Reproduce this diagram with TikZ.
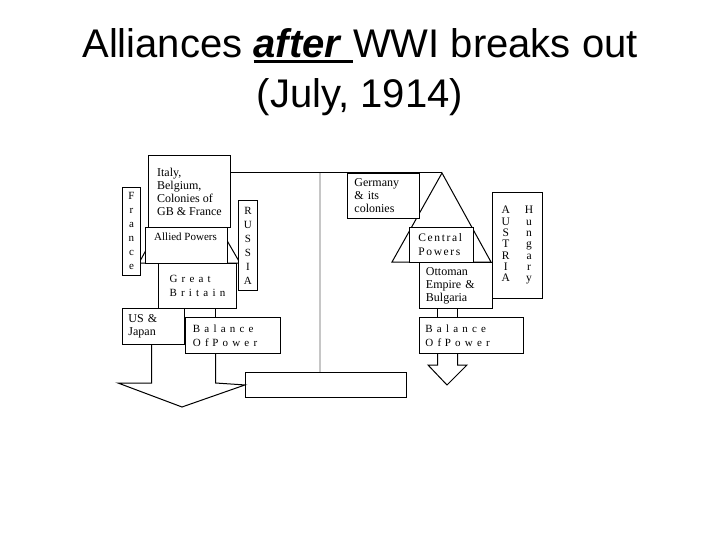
\documentclass[tikz,border=0pt]{standalone}
\usepackage{fontspec}
\setmainfont{Liberation Serif}
\newfontfamily\titlefont{Liberation Sans}
\newfontfamily\widefont[LetterSpace=38]{Liberation Serif}
\newfontfamily\semiwidefont[LetterSpace=14]{Liberation Serif}
\usetikzlibrary{positioning}
\newcommand{\ulword}[1]{\setbox0\hbox{#1}\rlap{\rule[-5pt]{\wd0}{2.6pt}}\box0}

\begin{document}
\begin{tikzpicture}[
  x=1pt, y=-1pt,
  box/.style={rectangle, draw, line width=0.9pt, fill=white, inner sep=0pt, align=left,
              font=\fontsize{12}{13}\selectfont},
  strip/.style={box, align=center, font=\fontsize{11}{14}\selectfont},
  wide/.style={box, font=\widefont\fontsize{11}{14}\selectfont},
  lbl/.style={inner sep=0pt, font=\fontsize{11}{13}\selectfont},
  heading/.style={font=\titlefont\fontsize{40}{48}\selectfont, anchor=base, inner sep=0pt},
  link/.style={draw, line width=1pt},
  pole/.style={draw=gray!45, line width=2pt},
]
  \path[use as bounding box, fill=white] (0,0) rectangle (720,540);

  % Title
  \node[heading] (title) at (360,58) {Alliances \ulword{\textbf{\textit{after}}\ }WWI breaks out};
  \node[heading] (date)  at (360,108) {(July, 1914)};

  % Scale points
  \coordinate (pivot)  at (320,173);
  \coordinate (lapex)  at (188,173);
  \coordinate (rapex)  at (442,173);
  \coordinate (lbaseL) at (139,263);
  \coordinate (lbaseR) at (240,263);
  \coordinate (rbaseL) at (392,262);
  \coordinate (rbaseR) at (491,262);

  % Pans
  \draw[link] (lapex) -- (lbaseL) -- (lbaseR) -- cycle;
  \draw[link] (rapex) -- (rbaseL) -- (rbaseR) -- cycle;

  % Allied side
  \node[box, minimum width=82pt, minimum height=72pt, anchor=north west] (italy) at (148,155)
    {Italy,\\Belgium,\\Colonies of\\GB \& France};
  \node[box, minimum width=82pt, minimum height=36pt, anchor=north west] (allied) at (145,227) {};
  \node[lbl, below right=6pt and 9pt of allied.north west] (alliedtxt) {Allied Powers};
  \node[strip, minimum width=18pt, minimum height=88pt, anchor=north west] (france) at (122,187)
    {F\\r\\a\\n\\c\\e};
  \node[strip, minimum width=19pt, minimum height=90pt, anchor=north west] (russia) at (238,200)
    {R\\U\\S\\S\\I\\A};
  \node[wide, minimum width=78pt, minimum height=45pt, anchor=north west] (gb) at (158,263)
    {Great\\Britain};
  \node[box, text width=50pt, minimum width=62pt, minimum height=36pt, anchor=north west] (usjp) at (122,308)
    {US \&\\Japan};
  \node[wide, text width=80pt, minimum width=95pt, minimum height=36pt, anchor=north west] (balL) at (185,317)
    {Balance\\Of Power};

  % Central side
  \node[box, text width=58pt, minimum width=72pt, minimum height=45pt, anchor=north west] (germany) at (347,173)
    {Germany\\\& its\\colonies};
  \node[box, font=\semiwidefont\fontsize{11.5}{14}\selectfont, text width=46pt, minimum width=64pt,
        minimum height=35pt, anchor=north west] (central) at (409,227) {Central\\Powers};
  \node[box, text width=60pt, minimum width=73pt, minimum height=46pt, anchor=north west] (otto) at (419,262)
    {Ottoman\\Empire \&\\Bulgaria};
  \node[box, font=\fontsize{11.5}{11.3}\selectfont, minimum width=50pt, minimum height=106pt,
        anchor=north west] (austria) at (492,192)
    {\begin{tabular}{@{}c@{\hspace{15pt}}c@{}}
       A & H\\ U & u\\ S & n\\ T & g\\ R & a\\ I & r\\ A & y
     \end{tabular}};
  \node[wide, text width=92pt, minimum width=104pt, minimum height=36pt, anchor=north west] (balR) at (419,317)
    {Balance\\Of Power};

  % Base
  \node[box, minimum width=161pt, minimum height=25pt, anchor=north west] (base) at (245,372) {};

  % Beam and pole
  \draw[link] (italy.east |- pivot) -- (rapex);
  \draw[pole] (pivot) -- (pivot |- base.north);

  % Left arrow
  \coordinate (lsl)  at (151.5,383);
  \coordinate (lhl)  at (118,383);
  \coordinate (ltip) at (182,407);
  \coordinate (lsr)  at (215.5,383);
  \draw[link] (gb.south -| lsr) -- (balL.north -| lsr);
  \draw[link] (usjp.south -| lsl) -- (lsl) -- (lhl) -- (ltip) -- (base.west) -- (lsr) -- (balL.south -| lsr);

  % Right arrow
  \coordinate (rsl)  at (437.5,365);
  \coordinate (rhl)  at (428,365);
  \coordinate (rtip) at (447,385);
  \coordinate (rhr)  at (467,365);
  \coordinate (rsr)  at (457.5,365);
  \draw[link] (otto.south -| rsl) -- (balR.north -| rsl);
  \draw[link] (otto.south -| rsr) -- (balR.north -| rsr);
  \draw[link] (balR.south -| rsl) -- (rsl) -- (rhl) -- (rtip) -- (rhr) -- (rsr) -- (balR.south -| rsr);
\end{tikzpicture}
\end{document}
